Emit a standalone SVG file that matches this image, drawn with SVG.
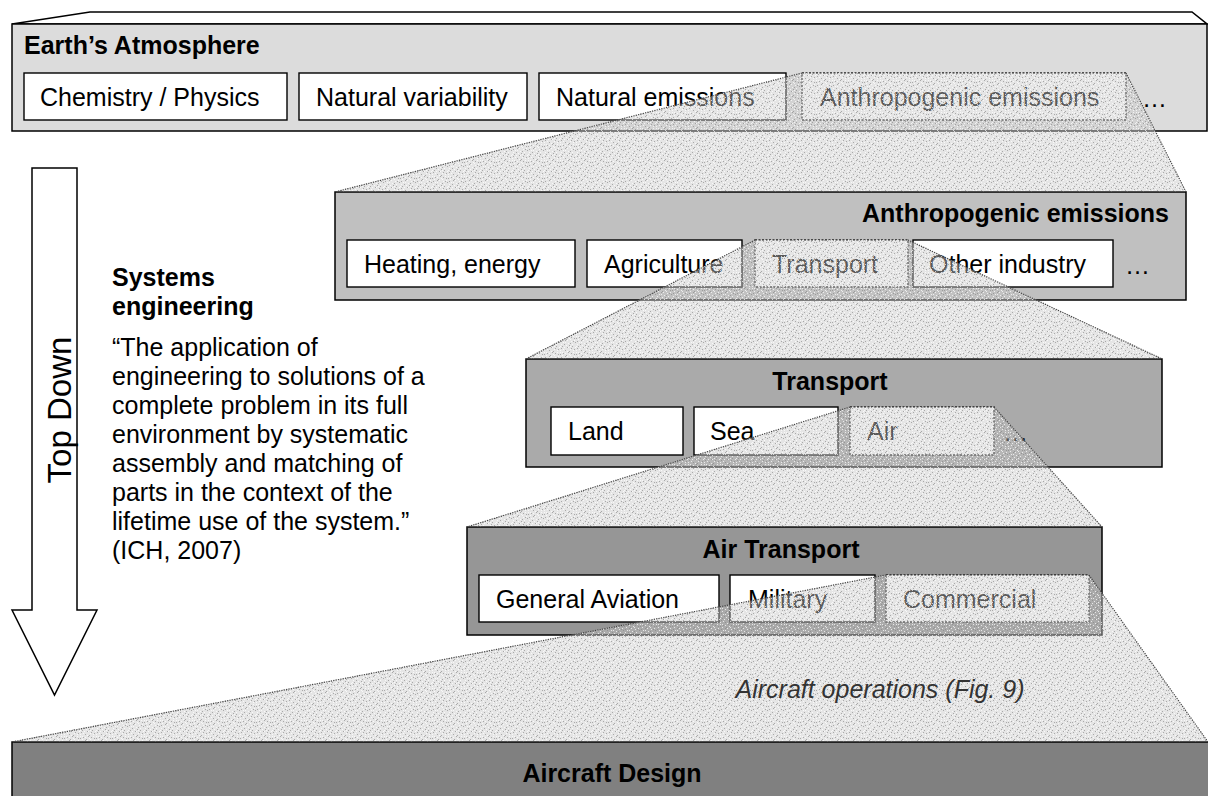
<svg xmlns="http://www.w3.org/2000/svg" width="1208" height="796" viewBox="0 0 1208 796">
<style>
text{font-family:"Liberation Sans",Arial,sans-serif;font-size:25px;fill:#000}
.b{font-weight:bold}
.frame{stroke:#000;stroke-width:1.5}
.box{fill:#fff;stroke:#000;stroke-width:1.4}
.dbox{fill:#fff;stroke:#222;stroke-width:1.4;stroke-dasharray:2 1.5}
.proj{fill:url(#stip)}
.edge{stroke:#444;stroke-width:1.2;stroke-dasharray:1.2 1.2;fill:none}
</style>
<defs>
<pattern id="stip" width="16" height="16" patternUnits="userSpaceOnUse">
<rect width="16" height="16" fill="#c6c6c6" fill-opacity="0.45"/>
<path d="M0 0h1v1h-1zM5 1h1v1h-1zM9 2h1v1h-1zM2 3h1v1h-1zM7 4h1v1h-1zM11 5h1v1h-1zM3 6h1v1h-1zM8 7h1v1h-1zM1 8h1v1h-1zM6 9h1v1h-1zM10 10h1v1h-1zM4 11h1v1h-1zM2 0h1v1h-1zM10 3h1v1h-1zM5 6h1v1h-1zM0 10h1v1h-1zM8 11h1v1h-1zM13 0h1v1h-1zM14 4h1v1h-1zM12 8h1v1h-1zM15 11h1v1h-1zM13 14h1v1h-1zM3 13h1v1h-1zM7 15h1v1h-1zM10 13h1v1h-1zM0 14h1v1h-1z" fill="#fff" fill-opacity="0.7"/>
<path d="M3 1h1v1h-1zM8 0h1v1h-1zM1 5h1v1h-1zM6 3h1v1h-1zM10 7h1v1h-1zM4 8h1v1h-1zM9 9h1v1h-1zM0 2h1v1h-1zM7 11h1v1h-1zM11 1h1v1h-1zM2 10h1v1h-1zM5 4h1v1h-1zM14 2h1v1h-1zM15 6h1v1h-1zM12 10h1v1h-1zM14 13h1v1h-1zM1 12h1v1h-1zM5 14h1v1h-1zM9 15h1v1h-1zM11 12h1v1h-1zM13 5h1v1h-1z" fill="#808080" fill-opacity="0.6"/>
</pattern>
</defs>

<g id="level1">
<polygon class="frame" points="12,24 90,12 1192,12 1207,24" fill="#fff"/>
<rect class="frame" x="12" y="24" width="1195" height="107" fill="#dcdcdc"/>
<text class="b" x="24" y="54">Earth’s Atmosphere</text>
<rect class="box" x="24" y="73" width="263" height="47"/>
<text x="40" y="106">Chemistry / Physics</text>
<rect class="box" x="299" y="73" width="228" height="47"/>
<text x="316" y="106">Natural variability</text>
<rect class="box" x="539" y="73" width="247" height="47"/>
<text x="556" y="106">Natural emissions</text>
<rect class="dbox" x="802" y="73" width="324" height="47"/>
<text x="820" y="106">Anthropogenic emissions</text>
<text x="1142" y="107">…</text>
</g>

<g id="level2">
<rect class="frame" x="335" y="192" width="851" height="108" fill="#c0c0c0"/>
<text class="b" x="1169" y="222" text-anchor="end">Anthropogenic emissions</text>
<rect class="box" x="347" y="240" width="228" height="47"/>
<text x="364" y="273">Heating, energy</text>
<rect class="box" x="587" y="240" width="155" height="47"/>
<text x="604" y="273">Agriculture</text>
<rect class="dbox" x="755" y="240" width="153" height="47"/>
<text x="772" y="273">Transport</text>
<rect class="box" x="913" y="240" width="200" height="47"/>
<text x="929" y="273">Other industry</text>
<text x="1125" y="274">…</text>
</g>

<g id="level3">
<rect class="frame" x="526" y="359" width="636" height="108" fill="#aaaaaa"/>
<text class="b" x="830" y="390" text-anchor="middle">Transport</text>
<rect class="box" x="551" y="407" width="132" height="48"/>
<text x="568" y="440">Land</text>
<rect class="box" x="694" y="407" width="144" height="48"/>
<text x="710" y="440">Sea</text>
<rect class="dbox" x="850" y="407" width="144" height="48"/>
<text x="867" y="440">Air</text>
<text x="1003" y="441">…</text>
</g>

<g id="level4">
<rect class="frame" x="467" y="527" width="635" height="108" fill="#969696"/>
<text class="b" x="781" y="558" text-anchor="middle">Air Transport</text>
<rect class="box" x="479" y="575" width="240" height="47"/>
<text x="496" y="608">General Aviation</text>
<rect class="box" x="730" y="575" width="145" height="47"/>
<text x="748" y="608">Military</text>
<rect class="dbox" x="886" y="575" width="203" height="47"/>
<text x="903" y="608">Commercial</text>
</g>

<g id="level5">
<rect class="frame" x="12" y="742" width="1200" height="60" fill="#808080"/>
<text class="b" x="612" y="782" text-anchor="middle">Aircraft Design</text>
</g>

<g id="arrow">
<path class="frame" d="M32,168 H77 V610 H97 L54.5,695 L12,610 H32 Z" fill="#fff"/>
<text transform="translate(71,410) rotate(-90)" text-anchor="middle" style="font-size:33px">Top Down</text>
</g>

<g id="systems-engineering">
<text class="b" x="112" y="286">Systems</text>
<text class="b" x="112" y="315">engineering</text>
<text x="112" y="356">“The application of</text>
<text x="112" y="385">engineering to solutions of a</text>
<text x="112" y="414">complete problem in its full</text>
<text x="112" y="443">environment by systematic</text>
<text x="112" y="472">assembly and matching of</text>
<text x="112" y="501">parts in the context of the</text>
<text x="112" y="530">lifetime use of the system.”</text>
<text x="112" y="559">(ICH, 2007)</text>
</g>

<g id="connectors">
<polygon class="proj" points="802,73 1126,73 1186,191.3 335,191.3"/>
<polygon class="proj" points="755,240 908,240 1162,358.3 526,358.3"/>
<polygon class="proj" points="850,407 994,407 1102,526.3 467,526.3"/>
<polygon class="proj" points="886,575 1089,575 1208,741.3 12,741.3"/>
<path class="edge" d="M802,73 L335,192 M1126,73 L1186,192 M755,240 L526,359 M908,240 L1162,359 M850,407 L467,527 M994,407 L1102,527 M886,575 L12,742 M1089,575 L1208,742"/>
<text x="880" y="698" text-anchor="middle" style="font-style:italic;fill:#333">Aircraft operations (Fig. 9)</text>
</g>
</svg>
